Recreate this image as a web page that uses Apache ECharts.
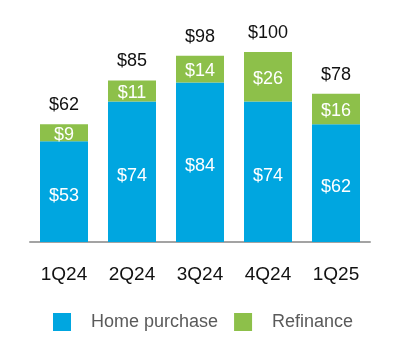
<!DOCTYPE html>
<html><head><meta charset="utf-8">
<script src="https://cdn.jsdelivr.net/npm/echarts@6/dist/echarts.min.js"></script>
<style>html,body{margin:0;padding:0;background:#fff}#c{width:400px;height:364px}</style>
</head><body><div id="c"></div>
<script>
const categories = ['1Q24','2Q24','3Q24','4Q24','1Q25'];
const homePurchase = [53, 74, 84, 74, 62];
const refinance = [9, 11, 14, 26, 16];
const totals = [62, 85, 98, 100, 78];
const seriesNames = ['Home purchase', 'Refinance'];

const chart = echarts.init(document.getElementById('c'), null, {renderer:'canvas'});
const font = 'Liberation Sans, Arial, Helvetica, sans-serif';
chart.setOption({
  animation: false,
  grid: {left: 30, width: 340, top: 52, height: 190},
  xAxis: {
    type: 'category', data: categories,
    axisLine: {lineStyle: {color: '#a3a3a3', width: 2}},
    axisTick: {show: false},
    axisLabel: {color: '#111', fontSize: 19, fontFamily: font, margin: 23}
  },
  yAxis: {type: 'value', min: 0, max: 100, show: false, splitLine: {show: false}},
  legend: {
    left: 48, top: 308, itemWidth: 18, itemHeight: 18, itemGap: 16,
    icon: 'rect',
    textStyle: {color: '#5a5a5a', fontSize: 18, fontFamily: font, padding: [0,0,0,15]},
    data: seriesNames
  },
  series: [
    {
      name: seriesNames[0], type: 'bar', stack: 's', data: homePurchase,
      barWidth: 48, itemStyle: {color: '#00a6e0'},
      label: {show: true, position: 'inside', offset: [0, 4], color: '#fff', fontSize: 18, fontFamily: font,
        formatter: p => '$' + p.value}
    },
    {
      name: seriesNames[1], type: 'bar', stack: 's', data: refinance,
      barWidth: 48, itemStyle: {color: '#8dc04a'},
      label: {show: true, position: 'inside', offset: [0, 2], color: '#fff', fontSize: 18, fontFamily: font,
        formatter: p => '$' + p.value}
    },
    {
      name: 'total', type: 'bar', stack: 's', data: totals.map(() => 0),
      barWidth: 48, itemStyle: {color: 'transparent'},
      label: {show: true, position: 'top', distance: 10, color: '#111', fontSize: 18, fontFamily: font,
        formatter: p => '$' + totals[p.dataIndex]}
    }
  ]
});
</script></body></html>
